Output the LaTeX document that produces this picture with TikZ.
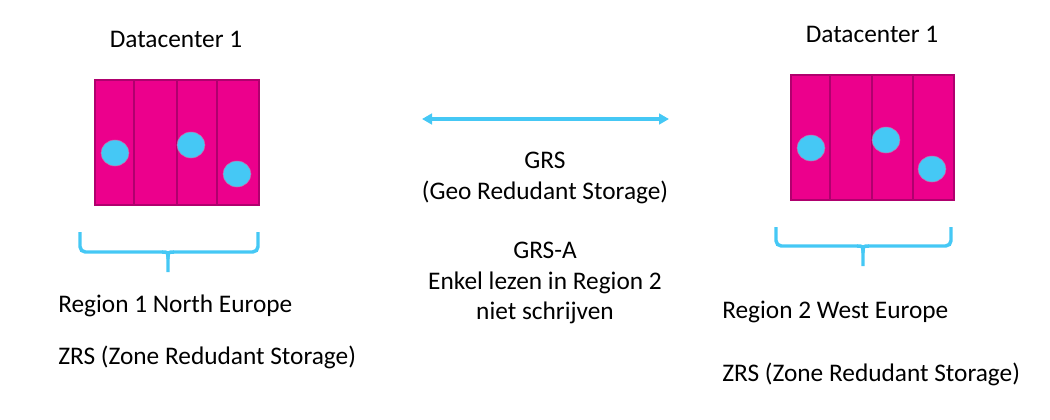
\documentclass[tikz,border=0pt]{standalone}
\usepackage{fontspec}
\setmainfont{Carlito}
\usetikzlibrary{arrows.meta}
\definecolor{rackpink}{HTML}{EC008C}
\definecolor{rackedge}{HTML}{B0006E}
\definecolor{diskblue}{HTML}{45C8F5}
\tikzset{lbl/.style={inner sep=0pt,font=\fontsize{19}{23}\selectfont},
  rack/.style={fill=rackpink,draw=rackedge,line width=0.8pt},
  disk/.style={fill=diskblue,draw=rackedge!60,line width=0.4pt},
  bracket/.style={draw=diskblue,line width=2.6pt,rounded corners=4pt},
  link/.style={draw=diskblue,line width=2.6pt,{Triangle[width=8pt,length=7.5pt]}-{Triangle[width=8pt,length=7.5pt]}}}

\begin{document}
\begin{tikzpicture}[x=0.75pt,y=-0.75pt]
          \useasboundingbox (0,0) rectangle (1050,419);

          % left datacenter
          \draw[rack] (95,80) rectangle (259,205);
          \foreach \x in {134,177,217} \draw[rackedge,line width=0.8pt] (\x,80) -- (\x,205);
          \draw[disk] (115,153) ellipse (14 and 13);
          \draw[disk] (191,145) ellipse (14 and 13);
          \draw[disk] (237,174) ellipse (14 and 13);

          % right datacenter
          \draw[rack] (791,75) rectangle (954,200);
          \foreach \x in {830,872,913} \draw[rackedge,line width=0.8pt] (\x,75) -- (\x,200);
          \draw[disk] (811,148) ellipse (14 and 13);
          \draw[disk] (886,140) ellipse (14 and 13);
          \draw[disk] (932,169) ellipse (14 and 13);

          \node[lbl,anchor=base] (dcleft) at (176,47) {Datacenter 1};
          \node[lbl,anchor=base] (dcright) at (872,42) {Datacenter 1};

          % brackets
          \coordinate (bl1) at (80,232); \coordinate (bl2) at (258,232); \coordinate (bltip) at (168,272);
          \draw[bracket] (bl1) -- (80,252) -- (163,252);
          \draw[bracket] (bl2) -- (258,252) -- (173,252);
          \draw[draw=diskblue,line width=2.6pt] (162,252) .. controls (168,252) .. (168,259) -- (bltip);
          \draw[draw=diskblue,line width=2.6pt] (174,252) .. controls (168,252) .. (168,259);
          \coordinate (br1) at (776,227); \coordinate (br2) at (951,227); \coordinate (brtip) at (863,266);
          \draw[bracket] (br1) -- (776,246) -- (858,246);
          \draw[bracket] (br2) -- (951,246) -- (868,246);
          \draw[draw=diskblue,line width=2.6pt] (857,246) .. controls (863,246) .. (863,253) -- (brtip);
          \draw[draw=diskblue,line width=2.6pt] (869,246) .. controls (863,246) .. (863,253);

          \node[lbl,anchor=base west] (regleft) at (58,312) {Region 1 North Europe};
          \node[lbl,anchor=base west] (zrsleft) at (58,364) {ZRS (Zone Redudant Storage)};
          \node[lbl,anchor=base west] (regright) at (722,318) {Region 2 West Europe};
          \node[lbl,anchor=base west] (zrsright) at (722,381) {ZRS (Zone Redudant Storage)};

          % replication
          \coordinate (aleft) at (422,119); \coordinate (aright) at (669,119);
          \draw[link] (aleft) -- (aright);
          \node[lbl,anchor=base] (grs) at (545,168) {GRS};
          \node[lbl,anchor=base] (grsname) at (545,199) {(Geo Redudant Storage)};
          \node[lbl,anchor=base] (grsa) at (545,258) {GRS-A};
          \node[lbl,anchor=base] (grsread) at (545,289) {Enkel lezen in Region 2};
          \node[lbl,anchor=base] (grswrite) at (545,319) {niet schrijven};
        \end{tikzpicture}
\end{document}
